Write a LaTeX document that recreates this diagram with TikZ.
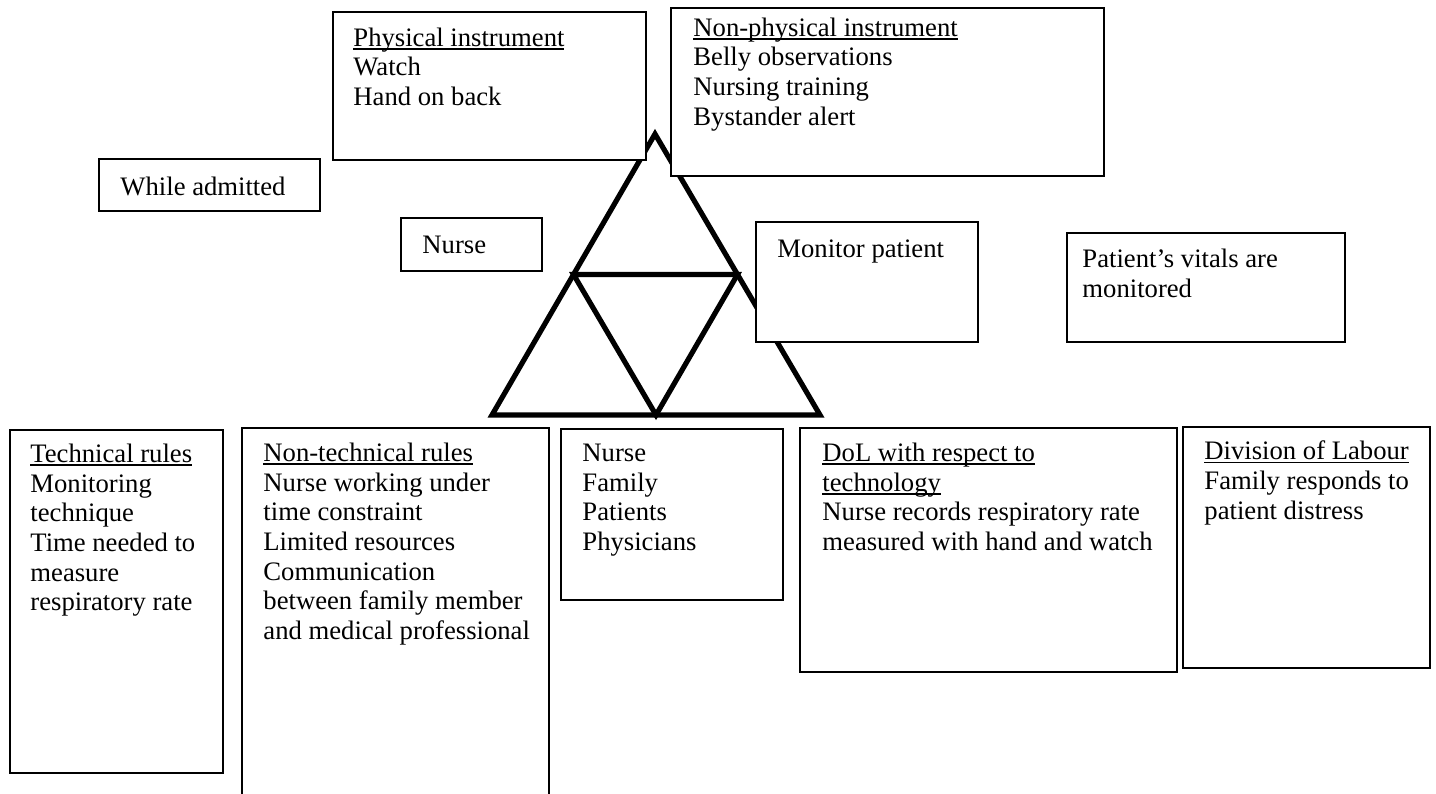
\documentclass[tikz,border=0pt]{standalone}
\usepackage{fontspec}
\setmainfont{Liberation Serif}
\usetikzlibrary{fit}

% Word-style underline, close under the baseline
\newcommand\ulin[1]{\setbox0\hbox{#1}\rlap{\rule[-1.7pt]{\wd0}{0.75pt}}\box0}

\tikzset{
  frame/.style={draw=black, line width=0.9pt, fill=white, inner sep=0pt},
  txt/.style={anchor=north west, inner sep=0pt, align=left,
              font=\fontsize{12.4}{13.8}\selectfont, execute at begin node=\strut},
  tri/.style={draw=black, line width=2.4pt, line join=miter}
}

\begin{document}
\begin{tikzpicture}[x=0.4651pt, y=-0.4651pt]
  \useasboundingbox (0,0) rectangle (1436,793);
  \clip (0,0) rectangle (1436,793);

  % activity-system triangle
  \coordinate (apex) at (655,134);
  \coordinate (bl) at (492,415);
  \coordinate (br) at (820,415);
  \draw[tri] (apex) -- (bl) -- (br) -- cycle;
  \path (apex) -- (bl) coordinate[pos=0.5] (midl);
  \path (apex) -- (br) coordinate[pos=0.5] (midr);
  \path (bl) -- (br) coordinate[pos=0.5] (midb);
  \draw[tri] (midl) -- (midr) -- (midb) -- cycle;

  % top row
  \node[frame, fit={(333,12) (646,160)}] (phys) {};
  \node[txt] (physT) at (353,27.2) {\ulin{Physical instrument}\\Watch\\Hand on back};

  \node[frame, fit={(671,8) (1104,176)}] (nonphys) {};
  \node[txt] (nonphysT) at (693,17.2) {\ulin{Non-physical instrument}\\Belly observations\\Nursing training\\Bystander alert};

  % middle row
  \node[frame, fit={(99,159) (320,211)}] (while) {};
  \node[txt] (whileT) at (120,174.2) {While admitted};

  \node[frame, fit={(401,218) (542,271)}] (subj) {};
  \node[txt] (subjT) at (422,232.2) {Nurse};

  \node[frame, fit={(756,222) (978,342)}] (obj) {};
  \node[txt] (objT) at (777,236.2) {Monitor patient};

  \node[frame, fit={(1067,233) (1345,342)}] (outc) {};
  \node[txt] (outcT) at (1082,249) {Patient’s vitals are\\monitored};

  % bottom row
  \node[frame, fit={(10,430) (223,773)}] (tech) {};
  \node[txt] (techT) at (30,443.5) {\ulin{Technical rules}\\Monitoring\\technique\\Time needed to\\measure\\respiratory rate};

  \node[frame, fit={(242,428) (549,797)}] (nontech) {};
  \node[txt] (nontechT) at (263,442.5) {\ulin{Non-technical rules}\\Nurse working under\\time constraint\\Limited resources\\Communication\\between family member\\and medical professional};

  \node[frame, fit={(561,429) (783,600)}] (comm) {};
  \node[txt] (commT) at (582,443.5) {Nurse\\Family\\Patients\\Physicians};

  \node[frame, fit={(800,428) (1177,672)}] (dol) {};
  \node[txt] (dolT) at (822,442.5) {\ulin{DoL with respect to}\\\ulin{technology}\\Nurse records respiratory rate\\measured with hand and watch};

  \node[frame, fit={(1183,427) (1430,668)}] (div) {};
  \node[txt] (divT) at (1204,440.5) {\ulin{Division of Labour}\\Family responds to\\patient distress};
\end{tikzpicture}
\end{document}
